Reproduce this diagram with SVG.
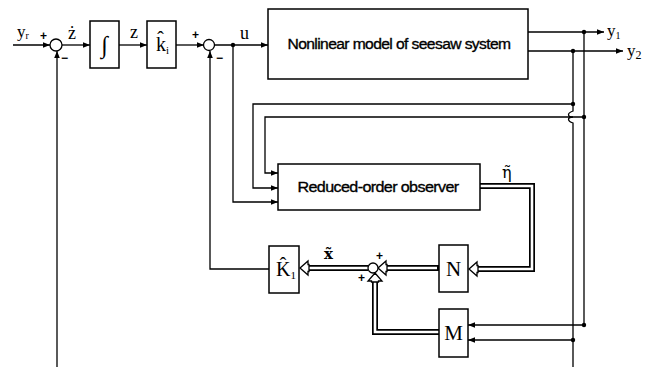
<svg xmlns="http://www.w3.org/2000/svg" width="666" height="367" viewBox="0 0 666 367">
<style>
.ln{fill:none;stroke:#000;stroke-width:1.3}
.box{fill:#fff;stroke:#000;stroke-width:1.5}
.sum{fill:#fff;stroke:#000;stroke-width:1.3}
.dot{fill:#000}
.dbo{fill:none;stroke:#000;stroke-width:6}
.dbi{fill:none;stroke:#fff;stroke-width:2.6}
.ha{fill:#fff;stroke:#000;stroke-width:1.3;stroke-linejoin:miter}
.s{font-family:"Liberation Serif","DejaVu Serif",serif;fill:#000}
.d{font-family:"DejaVu Serif",serif;fill:#000}
.a{font-family:"Liberation Sans",Arial,sans-serif;fill:#000;stroke:#000;stroke-width:0.35;letter-spacing:-0.6px}
.sg{font-family:"Liberation Sans",Arial,sans-serif;font-size:12px;font-weight:bold;fill:#000}
</style>
<defs>
<marker id="ar" viewBox="0 0 10 10" refX="10" refY="5" markerWidth="7" markerHeight="7" markerUnits="userSpaceOnUse" orient="auto">
<path d="M0,1 L10,5 L0,9 z" fill="#000"/>
</marker>
</defs>

<g id="connectors">
<path class="ln" d="M13,45 H50" marker-end="url(#ar)"/>
<path class="ln" d="M62,45 H90" marker-end="url(#ar)"/>
<path class="ln" d="M119,45 H147" marker-end="url(#ar)"/>
<path class="ln" d="M176,45 H204" marker-end="url(#ar)"/>
<path class="ln" d="M215,45 H268" marker-end="url(#ar)"/>
<path class="ln" d="M528,32 H604" marker-end="url(#ar)"/>
<path class="ln" d="M528,51 H623" marker-end="url(#ar)"/>
<path class="ln" d="M584,32 V325"/>
<path class="ln" d="M573,51 V111 C567,113 567,117 573,117 C567,117 567,121 573,123 V367"/>
<path class="ln" d="M573,104 H253 V188 H278" marker-end="url(#ar)"/>
<path class="ln" d="M584,117 H265 V173 H278" marker-end="url(#ar)"/>
<path class="ln" d="M233,45 V202 H278" marker-end="url(#ar)"/>
<path class="ln" d="M584,325 H468" marker-end="url(#ar)"/>
<path class="ln" d="M573,340 H468" marker-end="url(#ar)"/>
<path class="ln" d="M269,269 H210 V51" marker-end="url(#ar)"/>
<path class="ln" d="M57,367 V51" marker-end="url(#ar)"/>
<path class="dbo" d="M480,186 H532 V269 H476"/>
<path class="dbi" d="M480,186 H532 V269 H476"/>
<path class="dbo" d="M439,268 H386"/>
<path class="dbi" d="M437,268 H386"/>
<path class="dbo" d="M368,268 H307"/>
<path class="dbi" d="M368,268 H307"/>
<path class="dbo" d="M439,332 H375 V281"/>
<path class="dbi" d="M439,332 H375 V281"/>
<polygon class="ha" points="469,269 477,262 477,265.5 478,265.5 478,272.5 477,272.5 477,276"/>
<polygon class="ha" points="378,268 386,261 386,264.5 387,264.5 387,271.5 386,271.5 386,275"/>
<polygon class="ha" points="300,268 308,261 308,264.5 309,264.5 309,271.5 308,271.5 308,275"/>
<polygon class="ha" points="375,273 382,281 378.5,281 378.5,282 371.5,282 371.5,281 368,281"/>
<circle class="dot" cx="233" cy="45" r="2.2"/>
<circle class="dot" cx="584" cy="32" r="2.2"/>
<circle class="dot" cx="573" cy="51" r="2.2"/>
<circle class="dot" cx="573" cy="104" r="2.2"/>
<circle class="dot" cx="584" cy="117" r="2.2"/>
<circle class="dot" cx="584" cy="325" r="2.2"/>
<circle class="dot" cx="573" cy="340" r="2.2"/>
</g>

<g id="sum1">
<circle class="sum" cx="56" cy="45" r="6"/>
<text class="sg" x="40" y="40">+</text>
<text class="sg" x="61" y="62">−</text>
</g>
<g id="sum2">
<circle class="sum" cx="209" cy="45" r="5.5"/>
<text class="sg" x="192" y="39">+</text>
<text class="sg" x="216" y="62">−</text>
</g>
<g id="sum3">
<circle class="sum" cx="373" cy="268" r="5"/>
<text class="sg" x="376" y="260">+</text>
<text class="sg" x="358" y="282">+</text>
</g>

<g id="labels">
<text class="s" x="17" y="37" font-size="17">y<tspan font-size="10" dy="2">r</tspan></text>
<text class="s" x="68" y="39" font-size="18">ż</text>
<text class="s" x="130" y="38" font-size="18">z</text>
<text class="s" x="240" y="39" font-size="18">u</text>
<text class="s" x="607" y="36" font-size="17">y<tspan font-size="10" dy="3">1</tspan></text>
<text class="s" x="627" y="56" font-size="17">y<tspan font-size="12" dy="3">2</tspan></text>
<text class="d" x="502" y="178" font-size="16">η̃</text>
<text class="d" x="324" y="259" font-size="15" font-weight="bold">x̃</text>
</g>

<g id="integrator">
<rect class="box" x="90" y="21" width="29" height="47"/>
<text class="s" x="104.5" y="53" font-size="24" text-anchor="middle">∫</text>
</g>
<g id="ki">
<rect class="box" x="147" y="21" width="29" height="47"/>
<text class="s" x="156" y="51" font-size="20">k̂<tspan font-size="11" dy="3">i</tspan></text>
</g>
<g id="plant">
<rect class="box" x="268" y="9" width="260" height="70"/>
<text class="a" x="399" y="49" font-size="15.5" text-anchor="middle" textLength="223" lengthAdjust="spacingAndGlyphs">Nonlinear model of seesaw system</text>
</g>
<g id="observer">
<rect class="box" x="278" y="164" width="202" height="46"/>
<text class="a" x="378" y="192" font-size="15.5" text-anchor="middle" textLength="161" lengthAdjust="spacingAndGlyphs">Reduced-order observer</text>
</g>
<g id="K1">
<rect class="box" x="269" y="246" width="30" height="47"/>
<text class="s" x="276" y="276" font-size="20">K̂<tspan font-size="11" dy="3">1</tspan></text>
</g>
<g id="N">
<rect class="box" x="439" y="245" width="29" height="47"/>
<text class="s" x="453.5" y="276" font-size="21" text-anchor="middle">N</text>
</g>
<g id="M">
<rect class="box" x="439" y="309" width="29" height="48"/>
<text class="s" x="453.5" y="340" font-size="21" text-anchor="middle">M</text>
</g>
</svg>
